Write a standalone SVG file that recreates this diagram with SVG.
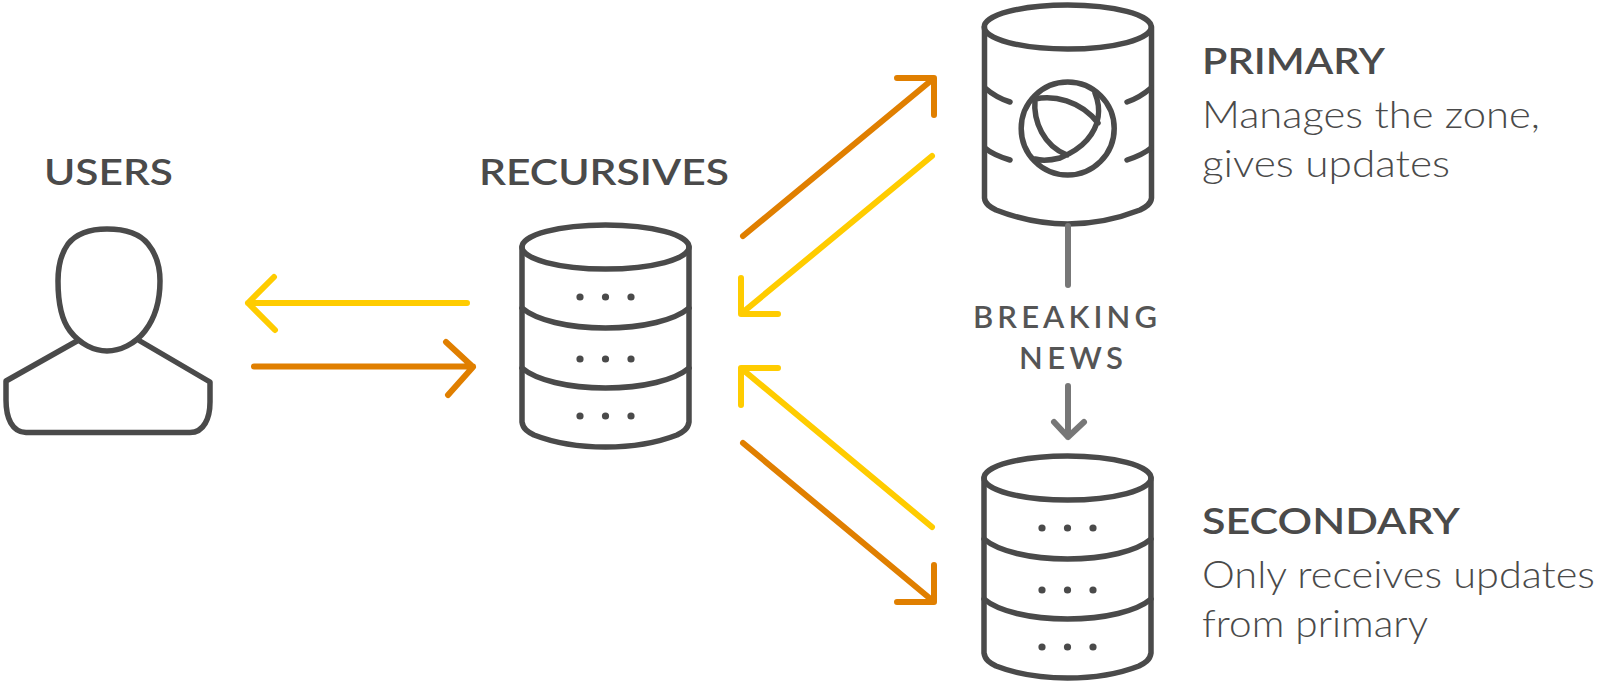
<svg xmlns="http://www.w3.org/2000/svg" width="1600" height="683" viewBox="0 0 1600 683">
<style>
.s{fill:none;stroke:#4a4a4a;stroke-width:5.500;stroke-linecap:round;stroke-linejoin:round}
.d{fill:#4a4a4a}
.y{fill:none;stroke:#ffcc00;stroke-width:6;stroke-linecap:round;stroke-linejoin:round}
.o{fill:none;stroke:#e07f00;stroke-width:6;stroke-linecap:round;stroke-linejoin:round}
.g{fill:none;stroke:#777;stroke-width:6;stroke-linecap:round;stroke-linejoin:round}
text{font-family:Lato,"Liberation Sans",sans-serif;fill:#4a4a4a}
.h{font-size:37px;font-weight:600}
.b{font-size:37px;font-weight:300}
.m{font-size:31px;font-weight:600;fill:#555}
</style>
<rect width="1600" height="683" fill="#fff"/>
<defs>
<g id="cyl">
<ellipse cx="83.5" cy="22" rx="83.5" ry="22" class="s"/>
<path class="s" d="M0 22V197C1 204 6 207 12 210C30 217 55 222 83.500 222C112 222 137 217 155 210C161 207 166 204 167 197V22"/>
<path class="s" d="M0 83C14 95 46 103 83.500 103S153 95 167 83"/>
<path class="s" d="M0 143C14 155 46 163 83.500 163S153 155 167 143"/>
<circle class="d" cx="58" cy="72" r="3.600"/><circle class="d" cx="83.500" cy="72" r="3.600"/><circle class="d" cx="109" cy="72" r="3.600"/>
<circle class="d" cx="58" cy="134" r="3.600"/><circle class="d" cx="83.500" cy="134" r="3.600"/><circle class="d" cx="109" cy="134" r="3.600"/>
<circle class="d" cx="58" cy="191" r="3.600"/><circle class="d" cx="83.500" cy="191" r="3.600"/><circle class="d" cx="109" cy="191" r="3.600"/>
</g>
</defs>
<g id="users">
<path class="s" d="M107 229C125 229 140 234 148 244C157 255 160 267 160 281C160 300 155 318 145 331C135 344 120 351 107 351C94 351 80 344 70 331C60 318 58 298 58 281C58 267 60 255 68 244C76 234 90 229 107 229Z"/>
<path class="s" d="M77 341L6 381V400C6 418 12 432 26 432.500H190C204 432.500 210 418 210 402V382L140 341"/>
<text class="h" x="44" y="185" textLength="129" lengthAdjust="spacingAndGlyphs">USERS</text>
</g>
<g id="recursives">
<use href="#cyl" x="522" y="225"/>
<text class="h" x="479" y="185" textLength="250" lengthAdjust="spacingAndGlyphs">RECURSIVES</text>
</g>
<g id="primary">
<ellipse cx="1067.700" cy="27" rx="83.500" ry="22" class="s"/>
<path class="s" d="M984.500 27V198C985 204 990 207 996 210C1014 217 1039 224 1067.700 224C1096 224 1122 217 1140 210C1146 207 1151 204 1151.500 198V27"/>
<path class="s" d="M985 88C992 94 1000 99 1010 102M985 148C992 154 1000 157 1010 160M1151 88C1144 94 1136 99 1127 102M1151 148C1144 154 1136 157 1127 160"/>
<circle class="s" cx="1067.700" cy="128.500" r="46.500"/>
<path class="s" d="M1035 99C1053 95 1080 100 1098 123M1035 99C1033 122 1044 146 1067 155M1095 93C1101 108 1100 125 1087 140C1080 148 1072 153 1060 158C1052 160 1042 161 1035 159"/>
<text class="h" x="1202" y="74" textLength="183" lengthAdjust="spacingAndGlyphs">PRIMARY</text>
<text class="b" x="1202" y="128" textLength="338" lengthAdjust="spacingAndGlyphs">Manages the zone,</text>
<text class="b" x="1202" y="177" textLength="248" lengthAdjust="spacingAndGlyphs">gives updates</text>
</g>
<g id="secondary">
<use href="#cyl" x="984" y="456"/>
<text class="h" x="1202" y="534" textLength="258" lengthAdjust="spacingAndGlyphs">SECONDARY</text>
<text class="b" x="1202" y="588" textLength="393" lengthAdjust="spacingAndGlyphs">Only receives updates</text>
<text class="b" x="1202" y="637" textLength="226" lengthAdjust="spacingAndGlyphs">from primary</text>
</g>
<g id="breaking-news">
<text class="m" x="973" y="328" textLength="184">BREAKING</text>
<text class="m" x="1019" y="369" textLength="104">NEWS</text>
</g>
<g id="connectors">
<path class="y" d="M467 303H248M274 277L248 303L275 330"/>
<path class="o" d="M254 366.500H473M446 342L473 367L448 395"/>
<path class="o" d="M743 236L933 79M897 78H934V115"/>
<path class="y" d="M932 156L742 313M741 278V314H778"/>
<path class="y" d="M932 527L742 369M778 368H741V405"/>
<path class="o" d="M743 443L933 601M897 602H934V565"/>
<path class="g" d="M1068 226V285"/>
<path class="g" d="M1068 386V437M1054 422L1068 437L1084 422"/>
</g>
</svg>
